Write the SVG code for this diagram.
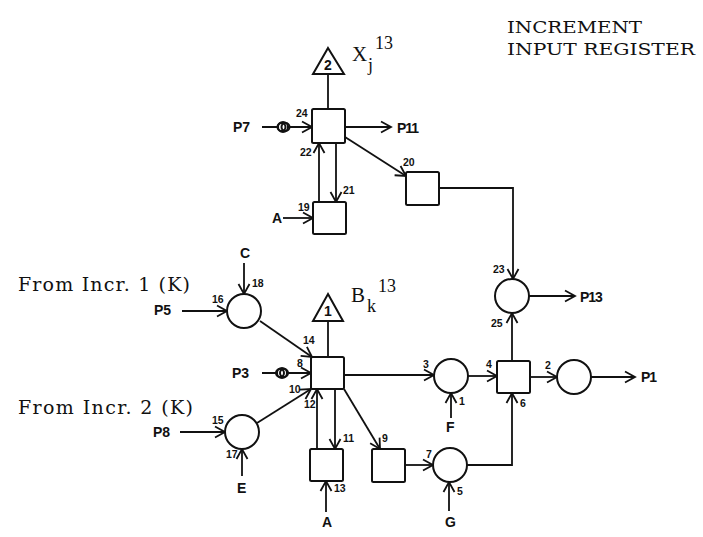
<svg xmlns="http://www.w3.org/2000/svg" width="703" height="537" viewBox="0 0 703 537">
<style>
.s{fill:#fff;stroke:#111;stroke-width:2}
.r{fill:none;stroke:#111;stroke-width:2}
.c{fill:none;stroke:#111;stroke-width:1.8}
.a{marker-end:url(#ah)}
.l{font-family:"Liberation Sans",Arial,sans-serif;font-weight:bold;fill:#111;font-size:14px}
.p{letter-spacing:-1px}
.n{font-family:"Liberation Sans",Arial,sans-serif;font-weight:bold;fill:#111;font-size:10.5px}
.t{font-family:"DejaVu Serif","Liberation Serif",serif;fill:#111;font-size:17px}
.f{font-family:"DejaVu Serif","Liberation Serif",serif;fill:#111;font-size:19px}
.b{font-family:"Liberation Serif","Times New Roman",serif;fill:#111;font-size:21px}
.u{font-family:"Liberation Serif","Times New Roman",serif;fill:#111;font-size:18px}
</style>
<defs>
<marker id="ah" markerUnits="userSpaceOnUse" markerWidth="14" markerHeight="14" refX="11" refY="6" orient="auto" overflow="visible">
<path d="M1,0.5 L11,6 L1,11.5" fill="none" stroke="#111" stroke-width="1.8"/>
</marker>
</defs>
<g id="connectors">
<path class="c" d="M328,74V109"/>
<path class="c a" d="M262,127H312"/>
<path class="c a" d="M345,127H391"/>
<path class="c a" d="M345,137L406,176"/>
<path class="c a" d="M319,202V143"/>
<path class="c a" d="M336,143V202"/>
<path class="c a" d="M283,218H313"/>
<path class="c a" d="M439,188H513V279"/>
<path class="c a" d="M529,296H575"/>
<path class="c a" d="M512,361V313"/>
<path class="c a" d="M244,263V294"/>
<path class="c a" d="M182,311H227"/>
<path class="c a" d="M260,321L312,357"/>
<path class="c" d="M328,321V357"/>
<path class="c a" d="M262,373H311"/>
<path class="c a" d="M344,375H434"/>
<path class="c a" d="M257,423L311,389"/>
<path class="c a" d="M180,432H225"/>
<path class="c a" d="M242,476V449"/>
<path class="c a" d="M317,449V389"/>
<path class="c a" d="M335,389V449"/>
<path class="c a" d="M344,389L380,449"/>
<path class="c a" d="M326,512V481"/>
<path class="c a" d="M405,465H433"/>
<path class="c a" d="M468,376H497"/>
<path class="c a" d="M451,418V393"/>
<path class="c a" d="M530,377H557"/>
<path class="c a" d="M591,377H635"/>
<path class="c a" d="M467,465H512V393"/>
<path class="c a" d="M449,511V482"/>
</g>
<g id="node-t2"><path class="s" d="M328,48L344,74H313Z"/><text class="l" x="328" y="70" text-anchor="middle">2</text></g>
<g id="node-24"><rect class="s" x="312" y="109" width="33" height="34" rx="1.5"/><text class="n" x="296" y="117">24</text></g>
<g id="node-19"><rect class="s" x="313" y="202" width="33" height="32" rx="1.5"/><text class="n" x="298" y="211">19</text></g>
<g id="node-20"><rect class="s" x="406" y="172" width="33" height="33" rx="1.5"/><text class="n" x="403" y="166">20</text></g>
<g id="node-p7-osc"><circle class="s" cx="283" cy="127" r="5"/><circle class="r" cx="281.500" cy="127" r="4"/><circle class="r" cx="285.500" cy="127" r="4"/></g>
<g id="node-p3-osc"><circle class="s" cx="282" cy="373" r="5"/><circle class="r" cx="280" cy="373" r="4"/><circle class="r" cx="284" cy="373" r="4"/></g>
<g id="node-t1"><path class="s" d="M328,294L343,321H313Z"/><text class="l" x="328" y="316" text-anchor="middle">1</text></g>
<g id="node-main"><rect class="s" x="311" y="357" width="33" height="32" rx="1.5"/></g>
<g id="node-16"><circle class="s" cx="244" cy="311" r="17"/><text class="n" x="212" y="303">16</text><text class="n" x="252" y="287">18</text></g>
<g id="node-15"><circle class="s" cx="242" cy="432" r="17"/><text class="n" x="212" y="424">15</text><text class="n" x="226" y="458">17</text></g>
<g id="node-13"><rect class="s" x="310" y="449" width="33" height="32" rx="1.5"/><text class="n" x="334" y="492">13</text></g>
<g id="node-9"><rect class="s" x="372" y="449" width="33" height="33" rx="1.5"/><text class="n" x="382" y="442">9</text></g>
<g id="node-3"><circle class="s" cx="451" cy="376" r="17"/><text class="n" x="423" y="368">3</text></g>
<g id="node-7"><circle class="s" cx="450" cy="465" r="17"/><text class="n" x="426" y="458">7</text></g>
<g id="node-gate"><rect class="s" x="497" y="361" width="33" height="32" rx="1.500"/><text class="n" x="486" y="368">4</text><text class="n" x="520" y="407">6</text></g>
<g id="node-2"><circle class="s" cx="574" cy="377" r="17"/><text class="n" x="545" y="369">2</text></g>
<g id="node-23"><circle class="s" cx="512" cy="296" r="17"/><text class="n" x="493" y="273">23</text><text class="n" x="491" y="327">25</text></g>
<g id="labels">
<text class="t" x="507" y="33" textLength="135" lengthAdjust="spacingAndGlyphs">INCREMENT</text>
<text class="t" x="507" y="55" textLength="188" lengthAdjust="spacingAndGlyphs">INPUT REGISTER</text>
<text class="f" x="18" y="291" textLength="172">From Incr. 1 (K)</text>
<text class="f" x="18" y="414" textLength="175">From Incr. 2 (K)</text>
<text class="b" x="352" y="61">X</text><text class="u" x="368" y="71">j</text><text class="u" x="375" y="49">13</text>
<text class="b" x="351" y="302">B</text><text class="u" x="367" y="312">k</text><text class="u" x="378" y="292">13</text>
<text class="l" x="233" y="132">P7</text><text class="l p" x="397" y="133">P11</text>
<text class="l" x="272" y="223">A</text>
<text class="l" x="240" y="258">C</text>
<text class="l" x="154" y="315">P5</text><text class="l" x="232" y="378">P3</text><text class="l" x="153" y="437">P8</text>
<text class="l" x="237" y="493">E</text><text class="l" x="322" y="527">A</text>
<text class="l" x="446" y="432">F</text><text class="l" x="445" y="527">G</text>
<text class="l p" x="580" y="302">P13</text><text class="l p" x="641" y="382">P1</text>
<text class="n" x="300" y="156">22</text><text class="n" x="343" y="194">21</text>
<text class="n" x="303" y="344">14</text><text class="n" x="297" y="367">8</text><text class="n" x="289" y="393">10</text>
<text class="n" x="304" y="408">12</text><text class="n" x="343" y="442">11</text>
<text class="n" x="459" y="405">1</text><text class="n" x="457" y="495">5</text>
</g>
</svg>
